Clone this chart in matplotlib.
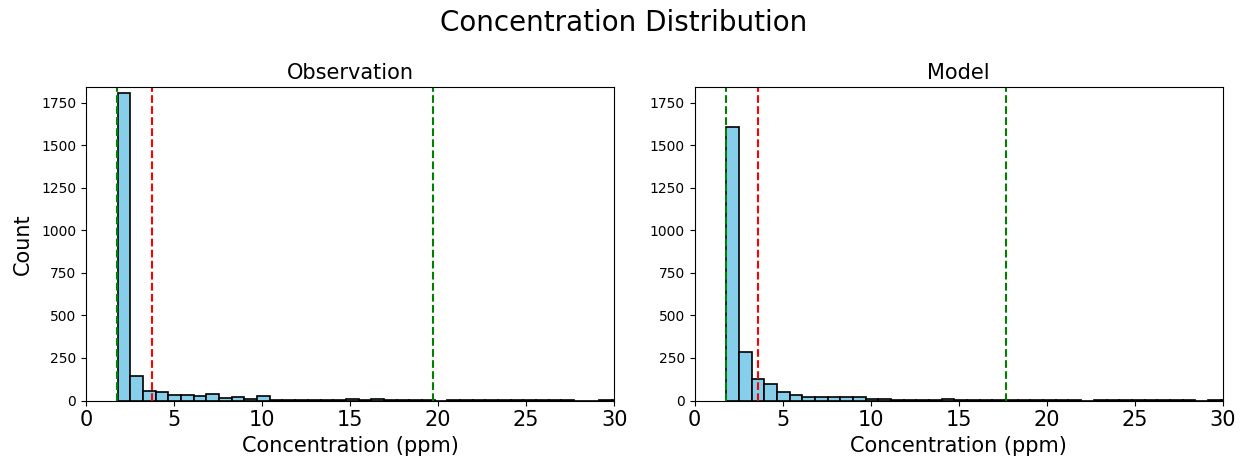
import numpy as np
import matplotlib
matplotlib.use("Agg")
import matplotlib.pyplot as plt

# bin edges shared by both panels (ppm)
bin_start = 1.8
bin_width = 0.72
n_bins = 40

# counts per bin
obs_counts = [1804, 144, 55, 49, 31, 31, 28, 36, 16, 20,
              8, 24, 5, 6, 6, 6, 6, 6, 12, 4,
              10, 2, 2, 2, 2, 0, 2, 2, 2, 2,
              2, 2, 2, 2, 2, 2, 0, 0, 2, 1]
mod_counts = [1608, 288, 127, 98, 53, 32, 22, 22, 22, 22,
              18, 12, 7, 6, 6, 6, 2, 10, 1, 1,
              3, 3, 3, 3, 3, 3, 3, 3, 0, 1,
              3, 3, 2, 2, 2, 2, 2, 0, 2, 2]

# reference lines: lower / upper percentile (green) and mean (red)
obs_lines = {"low": 1.78, "mean": 3.72, "high": 19.72}
mod_lines = {"low": 1.80, "mean": 3.60, "high": 17.70}

titles = ["Observation", "Model"]

edges = bin_start + bin_width * np.arange(n_bins + 1)
centers = (edges[:-1] + edges[1:]) / 2

fig = plt.figure(figsize=(12.47, 4.62), dpi=100)
ax1 = fig.add_axes([0.069, 0.133, 0.4235, 0.678])
ax2 = fig.add_axes([0.557, 0.133, 0.4235, 0.678])

for ax, counts, lines, title in zip([ax1, ax2], [obs_counts, mod_counts],
                                    [obs_lines, mod_lines], titles):
    ax.hist(centers, bins=edges, weights=counts, color="skyblue",
            edgecolor="black", linewidth=1.2)
    ax.axvline(lines["low"], color="green", linestyle="--", linewidth=1.5)
    ax.axvline(lines["mean"], color="red", linestyle="--", linewidth=1.5)
    ax.axvline(lines["high"], color="green", linestyle="--", linewidth=1.5)
    ax.set_xlim(0, 30)
    ax.set_ylim(0, 1840)
    ax.set_title(title, fontsize=15)
    ax.set_xlabel("Concentration (ppm)", fontsize=15)
    ax.tick_params(axis="x", labelsize=15)
    ax.tick_params(axis="y", labelsize=10)

ax1.set_ylabel("Count", fontsize=15)
ax1.yaxis.set_label_coords(-0.1, 0.5)
fig.suptitle("Concentration Distribution", fontsize=20, y=0.98)

fig.savefig("out.png", dpi=100)
